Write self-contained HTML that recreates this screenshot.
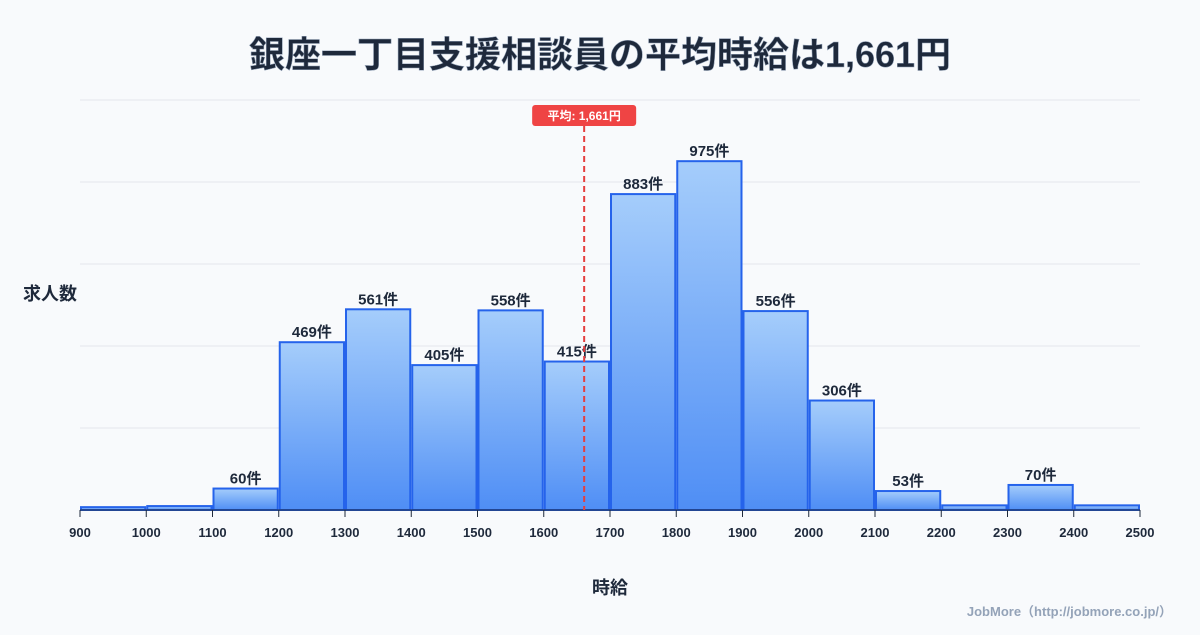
<!DOCTYPE html>
<html><head><meta charset="utf-8"><style>
body{margin:0;background:#f8fafc;font-family:"Liberation Sans","Noto Sans CJK JP",sans-serif;}
svg text{font-family:"Liberation Sans","Noto Sans CJK JP",sans-serif;}
</style></head><body>
<svg id="c" width="1200" height="630" xmlns="http://www.w3.org/2000/svg">
<defs><linearGradient id="g" x1="0" y1="0" x2="0" y2="1"><stop offset="0" stop-color="#a5cdfb"/><stop offset="1" stop-color="#4f8ef5"/></linearGradient></defs>
<rect width="1200" height="630" fill="#f8fafc"/>
<text x="600" y="67" text-anchor="middle" font-size="36" font-weight="bold" fill="#1e293b" stroke="#94a3b8" stroke-width="0.5">銀座一丁目支援相談員の平均時給は1,661円</text>
<text x="50" y="300" text-anchor="middle" font-size="18" font-weight="bold" fill="#1e293b">求人数</text>
<text x="610" y="594" text-anchor="middle" font-size="18" font-weight="bold" fill="#1e293b">時給</text>
<text x="1172" y="616" text-anchor="end" font-size="13" font-weight="bold" fill="#94a3b8">JobMore（http://jobmore.co.jp/）</text>
<g id="grid"></g><g id="bars"></g><g id="axis"></g><g id="mean"></g>
</svg>
<script>
const binStarts=[900,1000,1100,1200,1300,1400,1500,1600,1700,1800,1900,2000,2100,2200,2300,2400];
const counts=[8,11,60,469,561,405,558,415,883,975,556,306,53,13,70,13];
const showLabel=[false,false,true,true,true,true,true,true,true,true,true,true,true,false,true,false];
const xTicks=[900,1000,1100,1200,1300,1400,1500,1600,1700,1800,1900,2000,2100,2200,2300,2400,2500];
const meanValue=1661;
const NS="http://www.w3.org/2000/svg";
const X0=80,X1=1140,Y0=510,Y1=100,XMIN=900,XMAX=2500,YMAX=1146;
const x=v=>X0+(v-XMIN)/(XMAX-XMIN)*(X1-X0);
const y=v=>Y0-v/YMAX*(Y0-Y1);
function mk(t,a,p){const e=document.createElementNS(NS,t);for(const k in a)e.setAttribute(k,a[k]);p.appendChild(e);return e;}
const grid=document.getElementById('grid');
for(let i=1;i<=5;i++){const gy=Y0-i*(Y0-Y1)/5;const l=mk('line',{x1:X0,x2:X1,y1:gy,y2:gy,stroke:'#e5e7eb','stroke-width':1},grid);

}
const bars=document.getElementById('bars');
binStarts.forEach((s,i)=>{const bx=x(s)+1,bw=x(s+100)-x(s)-2,by=y(counts[i]);
const r=mk('rect',{x:bx,y:by,width:bw,height:Y0-by,fill:'url(#g)',stroke:'#2563eb','stroke-width':2},bars);


if(showLabel[i]){const t=mk('text',{x:bx+bw/2,y:by-5,'text-anchor':'middle','font-size':15,'font-weight':'bold',fill:'#1e293b'},bars);t.textContent=counts[i]+'件';

}
});
const ax=document.getElementById('axis');
const al=mk('line',{x1:X0,x2:X1,y1:Y0,y2:Y0,stroke:'#1e293b','stroke-width':1},ax);


xTicks.forEach(v=>{const tk=mk('line',{x1:x(v),x2:x(v),y1:Y0,y2:Y0+7,stroke:'#1e293b'},ax);


const t=mk('text',{x:x(v),y:537,'text-anchor':'middle','font-size':13,'font-weight':'bold',fill:'#1e293b'},ax);t.textContent=v;

});
const mg=document.getElementById('mean');const mx=x(meanValue);
const ml=mk('line',{x1:mx,x2:mx,y1:126,y2:Y0,stroke:'#e53e3e','stroke-width':2,'stroke-dasharray':'6,4'},mg);


const mb=mk('rect',{x:mx-52,y:105,width:104,height:21,rx:3,fill:'#ef4444'},mg);


const mt=mk('text',{x:mx,y:120,'text-anchor':'middle','font-size':12,'font-weight':'bold',fill:'#fff'},mg);mt.textContent='平均: 1,661円';


</script>
</body></html>
